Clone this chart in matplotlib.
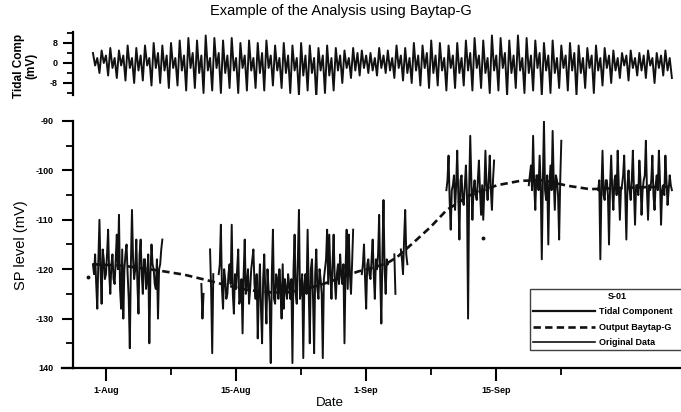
import numpy as np
import matplotlib
matplotlib.use("Agg")
import matplotlib.pyplot as plt
from matplotlib.lines import Line2D

plt.rcParams['font.family'] = ['Liberation Sans', 'DejaVu Sans']

# ---------------- data ----------------
tidal_step = 0.25   # days
orig_step = 0.125   # days

# Tidal component (mV), 4 samples per day starting at day -1.5 (day 0 = 1-Aug)
tidal_start = -1.5
tidal_values = [
    4, -1, 2, -4,   5, 0, 3, -5,   6, -2, 2, -6,   5, -1, 3, -7,
    7, -2, 2, -8,   6, -3, 3, -7,  7, -1, 2, -9,   8, -2, 4, -8,
    7, -3, 3, -10,  8, -2, 2, -9,  9, -3, 3, -11,  10, -2, 4, -10,
    9, -4, 3, -12,  11, -3, 2, -11, 10, -2, 4, -12, 9, -4, 3, -10,
    10, -3, 2, -12, 8, -2, 3, -11, 9, -3, 2, -10,  8, -4, 4, -11,
    9, -2, 3, -9,   7, -3, 2, -10, 8, -4, 3, -12,  7, -3, 2, -13,
    8, -5, 3, -11,  7, -4, 2, -14, 6, -3, 3, -12,  7, -5, 2, -11,
    6, -3, 3, -8,   5, -2, 2, -6,  6, -3, 4, -5,   5, -2, 3, -4,
    4, -3, 2, -5,   6, -2, 3, -4,  5, -3, 2, -6,   7, -2, 3, -7,
    6, -4, 2, -8,   8, -3, 3, -9,  7, -2, 4, -10,  9, -4, 3, -9,
    8, -3, 2, -11,  7, -2, 3, -10, 8, -4, 2, -9,   9, -3, 4, -11,
    10, -2, 3, -10, 9, -4, 2, -12, 11, -3, 3, -11, 10, -2, 4, -13,
    9, -4, 3, -10,  11, -3, 2, -12, 10, -4, 3, -11, 9, -2, 4, -13,
    8, -3, 3, -12,  9, -4, 2, -10, 7, -2, 3, -11,  8, -3, 4, -13,
    7, -4, 2, -10,  6, -2, 3, -12, 7, -3, 2, -9,   6, -2, 3, -8,
    5, -3, 2, -6,   4, -1, 3, -7,  5, -2, 2, -5,   4, -3, 3, -6,
    5, -1, 2, -8,   4, -2, 3, -5,  5, -3, 2, -6,
]

# Original data segments (SP level, mV): start day + values every 0.125 day
orig_seg1_start = -1.5
orig_seg1 = [-119, -121, -117, -123, -128, -118, -110, -120, -127, -116, -118,
             -122, -121, -117, -112, -121, -125, -119, -117, -122, -123, -118,
             -113, -120, -109, -124, -128, -116, -130, -120, -117, -115, -121,
             -126, -136, -119, -108, -118, -122, -120, -114, -123, -129, -117,
             -114, -121, -125, -118, -118, -124, -122, -117, -135, -121, -115,
             -119, -120, -123, -124, -118, -130, -120, -119, -116, -114]
orig_seg2_start = 11.0
orig_seg2 = [-123, -130, -125]
orig_seg3_start = 12.0
orig_seg3 = [-116, -124, -137, -121]
orig_seg4_start = 13.0
orig_seg4 = [-121, -119, -111, -124, -128, -120, -122, -126, -125, -121, -119,
             -123, -111, -125, -129, -121, -124, -120, -116, -127, -126, -122,
             -133, -121, -114, -125, -123, -120, -127, -124, -120, -118, -116,
             -123, -126, -121, -134, -125, -119, -128, -135, -122, -117, -125,
             -131, -120, -124, -127, -139, -121, -112, -126, -127, -121, -122,
             -126, -120, -124, -130, -119, -128, -122, -124, -126, -121, -123,
             -126, -122, -139, -120, -113, -125, -127, -118, -108, -126, -124,
             -121, -138, -123, -121, -125, -112, -124, -135, -120, -118, -126,
             -137, -121, -116, -124, -126, -120, -122, -125, -138, -122, -120,
             -118, -112, -123, -113, -121, -126, -119, -113, -122, -126, -121,
             -119, -123, -117, -121, -123, -119, -135, -120, -112, -124, -113,
             -121, -125, -119, -112]
orig_seg5_start = 29.5
orig_seg5 = [-121, -119, -115, -122, -128, -119, -118, -121, -122, -118, -114,
             -121, -126, -118, -120, -117, -109, -122, -131, -117, -106, -120,
             -125, -118, -119]
orig_seg6_start = 33.25
orig_seg6 = [-117, -125]
orig_seg7_start = 34.0
orig_seg7 = [-116, -118, -121, -114, -108, -117, -119]
orig_seg8_start = 39.25
orig_seg8 = [-104, -102, -97, -106, -112, -104, -103, -101, -108, -103, -96,
             -105, -114, -102, -101, -106, -107, -103, -99, -105, -130, -104,
             -93, -102, -110, -104, -102, -105, -106, -102, -98, -104, -109,
             -103, -110, -104, -96, -103, -106, -102, -97, -104, -108, -102,
             -98]
orig_seg9_start = 48.75
orig_seg9 = [-103, -101, -99, -104, -93, -103, -108, -101, -101, -104, -97,
             -103, -118, -102, -90, -104, -106, -101, -115, -103, -99, -104,
             -92, -102, -108, -101, -102, -105, -114, -102, -94]
orig_seg10_start = 56.75
orig_seg10 = [-104, -102, -118, -104, -96, -105, -106, -102, -102, -105, -115,
              -103, -97, -104, -108, -102, -101, -105, -96, -103, -110, -104,
              -103, -101, -97, -105, -114, -103, -100, -104, -106, -102, -96,
              -104, -111, -103, -103, -105, -98, -102, -109, -104, -102, -101,
              -94, -104, -110, -103, -104, -102, -97, -105, -108, -103, -101,
              -104, -96, -102, -111, -104, -103, -105, -97, -102, -107, -104,
              -101, -103, -104]
# isolated single samples
orig_dot_days = [-2.1, 43.5]
orig_dot_values = [-121.5, -113.7]

# Output of Baytap-G (trend)
trend_days = [-1.5, 2.0, 6.2, 9.0, 11.6, 14.0, 16.3, 19.0, 20.9, 23.0, 24.7,
              27.0, 29.0, 31.0, 32.5, 33.6, 35.4, 37.4, 39.3, 42.0, 45.1, 47.8,
              50.4, 53.2, 55.8, 59.0, 62.0, 65.4]
trend_values = [-119.0, -119.3, -120.3, -121.1, -122.2, -123.3, -124.2, -124.7,
                -124.7, -124.0, -123.2, -121.8, -120.5, -119.6, -118.7, -117.5,
                -114.7, -111.5, -108.0, -105.0, -103.0, -102.1, -102.0, -103.1,
                -103.8, -103.6, -103.4, -103.3]

# axes labels / ticks
x_tick_days = [0, 15, 30, 45]
x_tick_labels = ['1-Aug', '15-Aug', '1-Sep', '15-Sep']
x_minor_days = [7.5, 22.5, 37.5, 52.5]
y_ticks = [-90, -100, -110, -120, -130, -140]
y_tick_labels = ['-90', '-100', '-110', '-120', '-130', '140']
y_minor = [-95, -105, -115, -125, -135]
tidal_ticks = [8, 0, -8]
tidal_minor = [12, 4, -4, -12]

# ---------------- figure ----------------
W, H = 681, 412
fig = plt.figure(figsize=(W / 100, H / 100), dpi=100)
xlim = (-3.8, 66.3)

ax_top = fig.add_axes([73 / W, 1 - 95 / H, (W - 73) / W, 63 / H])
ax = fig.add_axes([73 / W, 1 - 368 / H, (W - 73) / W, 247 / H])

ink = '#111111'

# top panel: tidal component
tx = tidal_start + tidal_step * np.arange(len(tidal_values))
ax_top.plot(tx, tidal_values, color=ink, lw=1.4)
ax_top.set_xlim(*xlim)
ax_top.set_ylim(-12.8, 12.4)
for s in ['top', 'right', 'bottom']:
    ax_top.spines[s].set_visible(False)
ax_top.spines['left'].set_linewidth(1.6)
ax_top.set_xticks([])
ax_top.set_yticks(tidal_ticks)
ax_top.set_yticks(tidal_minor, minor=True)
ax_top.set_yticklabels([str(t) for t in tidal_ticks], fontsize=6.5, fontweight='bold')
ax_top.tick_params(axis='y', which='major', length=7, width=1.5, pad=4, direction='out')
ax_top.tick_params(axis='y', which='minor', length=4, width=1.3, direction='out')

# main panel
segments = [(orig_seg1_start, orig_seg1), (orig_seg2_start, orig_seg2),
            (orig_seg3_start, orig_seg3), (orig_seg4_start, orig_seg4),
            (orig_seg5_start, orig_seg5), (orig_seg6_start, orig_seg6),
            (orig_seg7_start, orig_seg7), (orig_seg8_start, orig_seg8),
            (orig_seg9_start, orig_seg9), (orig_seg10_start, orig_seg10)]
for start, vals in segments:
    xs = start + orig_step * np.arange(len(vals))
    ax.plot(xs, vals, color=ink, lw=1.4, zorder=2)
ax.plot(orig_dot_days, orig_dot_values, ls='none', marker='o', ms=1.8,
        color=ink, zorder=2)
ax.plot(trend_days, trend_values, color=ink, lw=1.9, dashes=(2.8, 1.6), zorder=3)

ax.set_xlim(*xlim)
ax.set_ylim(-140, -90)
ax.spines['top'].set_visible(False)
ax.spines['right'].set_visible(False)
ax.spines['left'].set_linewidth(1.6)
ax.spines['bottom'].set_linewidth(1.6)
# bottom axis line extends slightly left of the y axis, as in the original
ax.plot([-0.018, 0], [0, 0], transform=ax.transAxes, color='black',
        lw=1.6, clip_on=False)
ax.set_yticks(y_ticks)
ax.set_yticklabels(y_tick_labels, fontsize=6.5, fontweight='bold')
ax.set_yticks(y_minor, minor=True)
ax.set_xticks(x_tick_days)
ax.set_xticklabels(x_tick_labels, fontsize=6.5, fontweight='bold')
ax.set_xticks(x_minor_days, minor=True)
ax.tick_params(axis='y', which='major', length=8, width=1.5, pad=6)
ax.tick_params(axis='y', which='minor', length=5, width=1.3)
ax.tick_params(axis='x', which='major', length=9, width=1.5, pad=4)
ax.tick_params(axis='x', which='minor', length=5, width=1.3)

# texts
fig.text(0.5, 1 - 11 / H, 'Example of the Analysis using Baytap-G',
         ha='center', va='center', fontsize=10.5)
fig.text(21 / W, 1 - 245 / H, 'SP level (mV)', rotation=90,
         ha='center', va='center', fontsize=10.5)
fig.text(25 / W, 1 - 66 / H, 'Tidal Comp\n(mV)', rotation=90,
         ha='center', va='center', fontsize=8.5, fontweight='bold',
         linespacing=1.0)
fig.text(330 / W, 1 - 403 / H, 'Date', ha='center', va='center', fontsize=9.5)

# legend (box runs past the right edge of the figure, as in the original)
handles = [Line2D([], [], color=ink, lw=1.6),
           Line2D([], [], color=ink, lw=1.9, dashes=(2.8, 1.6)),
           Line2D([], [], color=ink, lw=1.2)]
labels = ['Tidal Component', 'Output Baytap-G', 'Original Data']
leg = ax.legend(handles, labels, title='S-01', loc='upper left',
                bbox_to_anchor=(530 / W, 1 - 352 / H, 175 / W, 63 / H),
                bbox_transform=fig.transFigure, mode='expand',
                prop={'size': 6.5, 'weight': 'bold'},
                title_fontproperties={'size': 6.5, 'weight': 'bold'},
                frameon=True, fancybox=False, handlelength=6.9,
                handletextpad=0.35, borderpad=0.35, labelspacing=0.7,
                borderaxespad=0)
leg.get_frame().set_edgecolor(ink)
leg.get_frame().set_linewidth(1.0)

fig.savefig('out.png', dpi=100)
